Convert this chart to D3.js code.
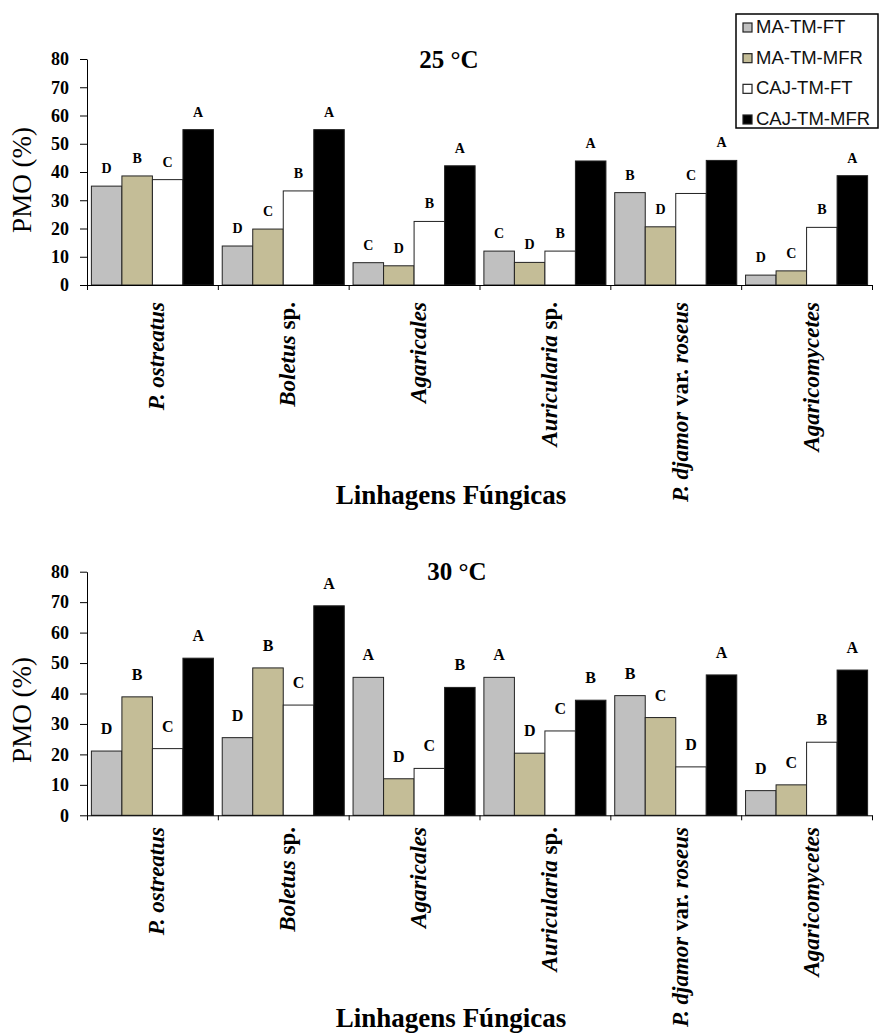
<!DOCTYPE html>
<html><head><meta charset="utf-8">
<script src="https://cdn.jsdelivr.net/npm/d3@7"></script>
<style>body{margin:0;background:#fff}svg{display:block}</style>
</head><body>
<svg id="c" width="880" height="1034"></svg>
<script>
// ---------------- DATA ----------------
const categories = ["P. ostreatus", "Boletus sp.", "Agaricales", "Auricularia sp.", "P. djamor var. roseus", "Agaricomycetes"];
const seriesNames = ["MA-TM-FT", "MA-TM-MFR", "CAJ-TM-FT", "CAJ-TM-MFR"];
const yTickValues = [0, 10, 20, 30, 40, 50, 60, 70, 80];

// 25 °C
const t25_MA_TM_FT   = [35.0, 13.8, 7.9, 12.0, 32.7, 3.5];
const t25_MA_TM_MFR  = [38.6, 19.8, 6.8, 8.0, 20.6, 5.0];
const t25_CAJ_TM_FT  = [37.3, 33.3, 22.5, 12.0, 32.4, 20.4];
const t25_CAJ_TM_MFR = [55.0, 55.0, 42.2, 43.9, 44.1, 38.7];
const l25_MA_TM_FT   = ["D", "D", "C", "C", "B", "D"];
const l25_MA_TM_MFR  = ["B", "C", "D", "D", "D", "C"];
const l25_CAJ_TM_FT  = ["C", "B", "B", "B", "C", "B"];
const l25_CAJ_TM_MFR = ["A", "A", "A", "A", "A", "A"];

// 30 °C
const t30_MA_TM_FT   = [21.1, 25.5, 45.3, 45.3, 39.3, 8.1];
const t30_MA_TM_MFR  = [38.9, 48.4, 12.0, 20.4, 32.1, 10.0];
const t30_CAJ_TM_FT  = [21.9, 36.2, 15.4, 27.7, 15.9, 24.0];
const t30_CAJ_TM_MFR = [51.6, 68.8, 42.0, 37.8, 46.1, 47.7];
const l30_MA_TM_FT   = ["D", "D", "A", "A", "B", "D"];
const l30_MA_TM_MFR  = ["B", "B", "D", "D", "C", "C"];
const l30_CAJ_TM_FT  = ["C", "C", "C", "C", "D", "B"];
const l30_CAJ_TM_MFR = ["A", "A", "B", "B", "A", "A"];

const yAxisTitle = "PMO (%)";
const xAxisTitle = "Linhagens Fúngicas";

// ---------------- STYLE / LAYOUT ----------------
const colors = ["#c0c0c0", "#c4bd97", "#ffffff", "#000000"];
const serif = "'Liberation Serif','Times New Roman',serif";
const sans = "'Liberation Sans',Arial,sans-serif";

const panels = [
  { title: "25 °C", values: [t25_MA_TM_FT, t25_MA_TM_MFR, t25_CAJ_TM_FT, t25_CAJ_TM_MFR],
    letters: [l25_MA_TM_FT, l25_MA_TM_MFR, l25_CAJ_TM_FT, l25_CAJ_TM_MFR],
    yTop: 59, yBot: 285, titleX: 449, titleY: 68, ylabY: 180, xlabTop: 302, xTitleY: 504,
    letterSize: 14, letterOff: 13 },
  { title: "30 °C", values: [t30_MA_TM_FT, t30_MA_TM_MFR, t30_CAJ_TM_FT, t30_CAJ_TM_MFR],
    letters: [l30_MA_TM_FT, l30_MA_TM_MFR, l30_CAJ_TM_FT, l30_CAJ_TM_MFR],
    yTop: 571.7, yBot: 815.3, titleX: 457, titleY: 580, ylabY: 710, xlabTop: 827, xTitleY: 1027,
    letterSize: 16, letterOff: 17 }
];

const xLeft = 87, xRight = 872;
const svg = d3.select("#c");

panels.forEach((p, pi) => {
  const g = svg.append("g");
  const x0 = d3.scaleBand().domain(categories).range([xLeft, xRight]).padding(0);
  const x1 = d3.scaleBand().domain(seriesNames).range([0, x0.bandwidth()]).paddingInner(0).paddingOuter(0.144);
  const y = d3.scaleLinear().domain([0, 80]).range([p.yBot, p.yTop]);
  const xb = d3.scaleLinear().domain([0, categories.length]).range([xLeft, xRight]);

  // bars
  seriesNames.forEach((s, si) => {
    g.selectAll(null).data(categories).enter().append("rect")
      .attr("x", c => x0(c) + x1(s))
      .attr("y", (c, i) => y(p.values[si][i]))
      .attr("width", x1.bandwidth())
      .attr("height", (c, i) => y(0) - y(p.values[si][i]))
      .attr("fill", colors[si])
      .attr("stroke", "#222").attr("stroke-width", 1);
    g.selectAll(null).data(categories).enter().append("text")
      .attr("x", c => x0(c) + x1(s) + x1.bandwidth() / 2)
      .attr("y", (c, i) => y(p.values[si][i]) - p.letterOff)
      .attr("text-anchor", "middle")
      .style("font-family", serif).style("font-weight", "bold").style("font-size", p.letterSize + "px")
      .text((c, i) => p.letters[si][i]);
  });

  // y axis
  const ya = g.append("g").attr("transform", `translate(${xLeft},0)`)
    .call(d3.axisLeft(y).tickValues(yTickValues).tickSize(7).tickSizeOuter(0).tickPadding(11));
  ya.selectAll("text").style("font-family", serif).style("font-weight", "bold").style("font-size", "18px").attr("fill", "#000");
  ya.selectAll("line,path").attr("stroke", "#000");

  // x axis
  const xa = g.append("g").attr("transform", `translate(0,${p.yBot})`)
    .call(d3.axisBottom(xb).tickValues(d3.range(0, categories.length + 1)).tickSize(5).tickSizeOuter(0).tickFormat(""));
  xa.selectAll("line,path").attr("stroke", "#000");

  // category labels
  categories.forEach(c => {
    const cx = x0(c) + x0.bandwidth() / 2 + 12;
    const t = g.append("text")
      .attr("transform", `translate(${cx},${p.xlabTop}) rotate(-90)`)
      .attr("text-anchor", "end")
      .style("font-family", serif).style("font-weight", "bold").style("font-size", "23px");
    c.split(/(\s+)/).forEach(tok => {
      if (!tok) return;
      const upright = (tok === "sp." || tok === "var.");
      t.append("tspan").style("font-style", upright ? "normal" : "italic").text(tok);
    });
  });

  // titles
  g.append("text").attr("x", p.titleX).attr("y", p.titleY).attr("text-anchor", "middle")
    .style("font-family", serif).style("font-weight", "bold").style("font-size", "25px").text(p.title);
  g.append("text").attr("transform", `translate(31,${p.ylabY}) rotate(-90)`).attr("text-anchor", "middle")
    .style("font-family", serif).style("font-size", "27px").text(yAxisTitle);
  g.append("text").attr("x", 451).attr("y", p.xTitleY).attr("text-anchor", "middle")
    .style("font-family", serif).style("font-weight", "bold").style("font-size", "27px").text(xAxisTitle);
});

// legend
const lg = svg.append("g");
lg.append("rect").attr("x", 736).attr("y", 14).attr("width", 142).attr("height", 114)
  .attr("fill", "#fff").attr("stroke", "#000").attr("stroke-width", 1.5);
const ly = d3.scalePoint().domain(seriesNames).range([33, 125]);
seriesNames.forEach((s, i) => {
  lg.append("rect").attr("x", 743).attr("y", ly(s) - 10).attr("width", 9).attr("height", 9)
    .attr("fill", colors[i]).attr("stroke", "#222").attr("stroke-width", 1.2);
  lg.append("text").attr("x", 756).attr("y", ly(s)).style("font-family", sans).style("font-size", "18.5px")
    .attr("fill", "#111").text(s);
});
</script>
</body></html>
